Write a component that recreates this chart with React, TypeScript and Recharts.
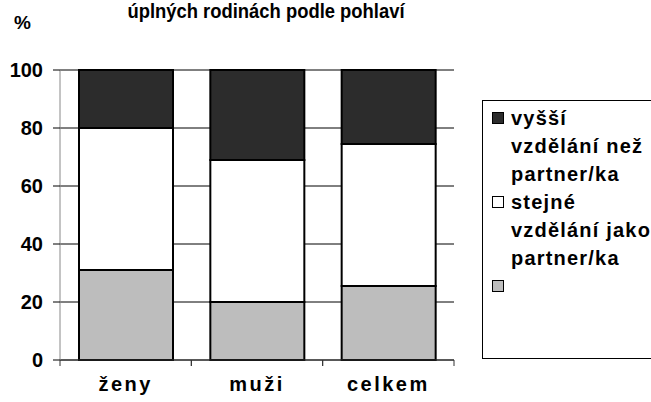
import { BarChart, Bar, XAxis, YAxis, CartesianGrid, Legend } from 'recharts';

const categories = ['ženy', 'muži', 'celkem'];
const nizsi = [31, 20, 25.5];
const stejne = [49, 49, 49];
const vyssi = [20, 31, 25.5];
const yTicks = [0, 20, 40, 60, 80, 100];

const seriesNames: Record<string, string> = {
  vyssi: 'vyšší vzdělání než partner/ka',
  stejne: 'stejné vzdělání jako partner/ka',
  nizsi: '',
};

const data = categories.map((c, i) => ({
  name: c,
  nizsi: nizsi[i],
  stejne: stejne[i],
  vyssi: vyssi[i],
}));

const font = 'Arial, "Liberation Sans", sans-serif';

function CategoryTick(props: any) {
  const { x, y, payload } = props;
  const half = payload.offset || 0;
  return (
    <g>
      <line x1={x - half} x2={x - half} y1={y - 6} y2={y} stroke="#333" />
      <line x1={x + half} x2={x + half} y1={y - 6} y2={y} stroke="#333" />
      <text x={x} y={y + 25} textAnchor="middle" fontFamily={font} fontWeight="bold" fontSize={20} letterSpacing={2.5} fill="#000">
        {payload.value}
      </text>
    </g>
  );
}

function LegendBox(props: any) {
  const items = [...(props.payload || [])].reverse();
  return (
    <div style={{ border: '1px solid #000', width: 190, height: 259, boxSizing: 'border-box', padding: '3px 0 0 9px', background: '#fff' }}>
      {items.map((it: any) => (
        <div key={it.dataKey} style={{ display: 'flex', alignItems: 'flex-start' }}>
          <div style={{ width: 10, height: 10, border: '1px solid #000', background: it.color, marginTop: 8, flexShrink: 0 }} />
          <div style={{ width: 146, marginLeft: 7, fontFamily: font, fontWeight: 'bold', fontSize: 20, letterSpacing: 1.2, lineHeight: '28px', minHeight: 28, color: '#000' }}>
            {seriesNames[it.dataKey]}
          </div>
        </div>
      ))}
    </div>
  );
}

export default function App() {
  return (
    <div style={{ position: 'absolute', left: 0, top: 0, width: 651, height: 402, overflow: 'hidden', background: '#fff' }}>
      <div style={{ position: 'absolute', left: 0, width: 532, top: 0, textAlign: 'center', fontFamily: font, fontWeight: 'bold', fontSize: 20, lineHeight: '22px', color: '#000', transform: 'scaleX(0.92)' }}>
        úplných rodinách podle pohlaví
      </div>
      <div style={{ position: 'absolute', left: 14, top: 12, fontFamily: font, fontWeight: 'bold', fontSize: 19, color: '#000' }}>%</div>
      <BarChart width={651} height={402} data={data} margin={{ top: 70, right: 197, left: 0, bottom: 0 }} barSize={94}>
        <CartesianGrid vertical={false} stroke="#000" />
        <XAxis
          dataKey="name"
          height={42}
          tickLine={false}
          tickSize={6}
          tickMargin={0}
          axisLine={{ stroke: '#333' }}
          tick={<CategoryTick />}
          interval={0}
        />
        <YAxis
          width={60}
          domain={[0, 100]}
          ticks={yTicks}
          tickSize={7}
          tickMargin={10}
          tickLine={{ stroke: '#000' }}
          axisLine={{ stroke: '#888' }}
          tick={{ fontFamily: font, fontWeight: 'bold', fontSize: 20, fill: '#000' }}
        />
        <Legend
          layout="vertical"
          align="center"
          verticalAlign="middle"
          wrapperStyle={{ left: 482, top: 100, width: 190 }}
          content={<LegendBox />}
        />
        <Bar dataKey="nizsi" stackId="a" fill="#bdbdbd" stroke="#000" strokeWidth={2} isAnimationActive={false} />
        <Bar dataKey="stejne" stackId="a" fill="#ffffff" stroke="#000" strokeWidth={2} isAnimationActive={false} />
        <Bar dataKey="vyssi" stackId="a" fill="#2c2c2c" stroke="#000" strokeWidth={2} isAnimationActive={false} />
      </BarChart>
    </div>
  );
}
